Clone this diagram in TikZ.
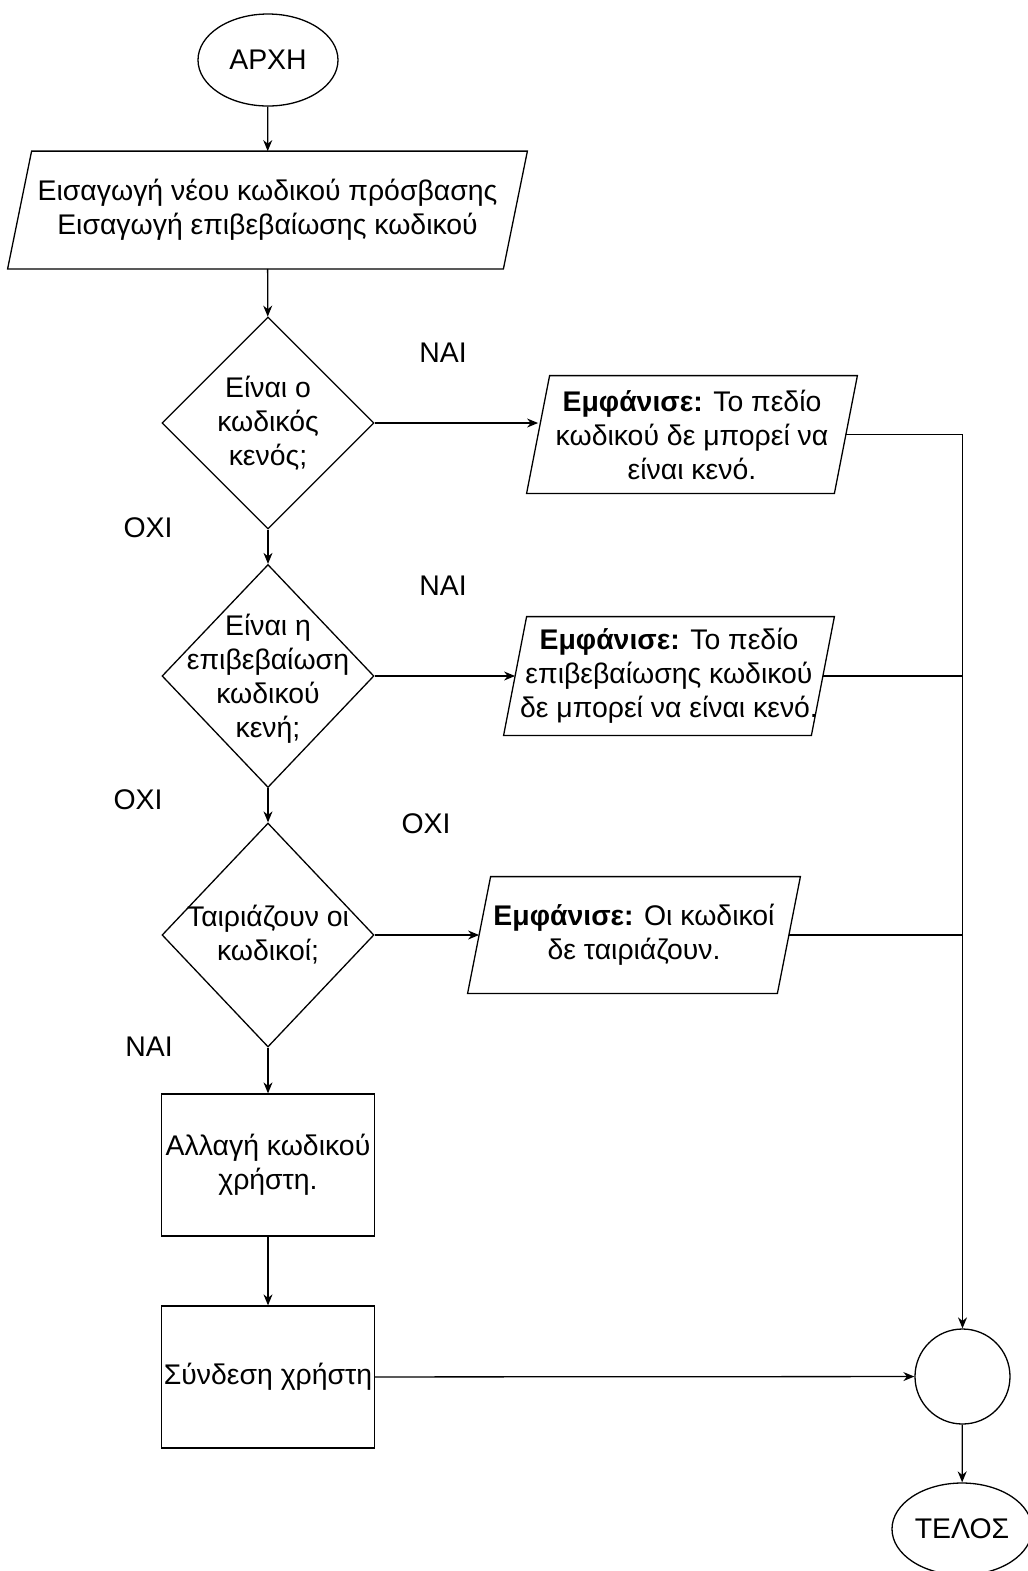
\documentclass[tikz,border=0pt]{standalone}
\usepackage{fontspec}
\setmainfont{Liberation Sans}
\usetikzlibrary{shapes.geometric,arrows.meta}

\begin{document}
\begin{tikzpicture}[x=0.5pt,y=-0.5pt,
  every node/.style={font=\fontsize{14.2}{17}\selectfont, inner sep=0pt},
  line/.style={draw=black, line width=0.65pt},
  flow/.style={line, -{Stealth[length=5.5pt,width=4.5pt]}},
  terminal/.style={ellipse, draw, line width=0.65pt, minimum width=70pt, minimum height=46pt},
  decision/.style={diamond, draw, line width=0.65pt, minimum width=106pt},
  process/.style={rectangle, draw, line width=0.65pt, minimum width=106.5pt, minimum height=71pt, align=center},
  io/.style={rectangle, minimum height=58.5pt, align=center},
  junction/.style={circle, draw, line width=0.65pt, minimum size=47.5pt},
  answer/.style={}
]
\useasboundingbox (0,0) rectangle (1028,1571);

% start and input
\node[terminal] (start) at (268,60) {ΑΡΧΗ};
\node[io, minimum width=247.5pt] (p1) at (267.5,210)
  {Εισαγωγή νέου κωδικού πρόσβασης\\Εισαγωγή επιβεβαίωσης κωδικού};

% checks
\node[decision, minimum height=106pt] (d1) at (268,423) {};
\node[align=center] (d1t) at (d1) {Είναι ο\\κωδικός\\κενός;};
\node[decision, minimum height=111.5pt] (d2) at (268,676) {};
\node[align=center] (d2t) at (268,679) {Είναι η\\επιβεβαίωση\\κωδικού\\κενή;};
\node[decision, minimum height=112pt] (d3) at (268,935) {};
\node[align=center] (d3t) at (d3) {Ταιριάζουν οι\\κωδικοί;};

% messages
\node[io, minimum width=153.5pt] (p2) at (692,434.5)
  {\textbf{Εμφάνισε:} Το πεδίο\\κωδικού δε μπορεί να\\είναι κενό.};
\node[io, minimum width=153.5pt, minimum height=59pt] (p3) at (669,676)
  {\textbf{Εμφάνισε:} Το πεδίο\\επιβεβαίωσης κωδικού\\δε μπορεί να είναι κενό.};
\node[io, minimum width=154.5pt, minimum height=58pt] (p4) at (634,935)
  {\textbf{Εμφάνισε:} Οι κωδικοί\\δε ταιριάζουν.};

% parallelogram outlines around the input/output nodes
\foreach \n/\s in {p1/6pt,p2/5.75pt,p3/5.75pt,p4/5.75pt}
  \draw[line] ([xshift=\s]\n.north west) -- ([xshift=\s]\n.north east)
    -- ([xshift=-\s]\n.south east) -- ([xshift=-\s]\n.south west) -- cycle;

% actions
\node[process] (r1) at (268,1165) {Αλλαγή κωδικού\\χρήστη.};
\node[process] (r2) at (268,1377) {Σύνδεση χρήστη};

% merge point and end
\node[junction] (m) at (962.5,1376.5) {};
\node[terminal] (end) at (962,1529) {ΤΕΛΟΣ};

% answers
\node[answer] (y1) at (443,353) {ΝΑΙ};
\node[answer] (n1) at (148,528) {ΟΧΙ};
\node[answer] (y2) at (443,586) {ΝΑΙ};
\node[answer] (n2) at (138,800) {ΟΧΙ};
\node[answer] (n3) at (426,824) {ΟΧΙ};
\node[answer] (y3) at (149,1047) {ΝΑΙ};

% main column
\draw[flow] (start) -- (p1);
\draw[flow] (p1) -- (d1);
\draw[flow] (d1) -- (d2);
\draw[flow] (d2) -- (d3);
\draw[flow] (d3) -- (r1);
\draw[flow] (r1) -- (r2);
\draw[flow] (r2) -- (m);
\draw[flow] (m) -- (end);

% branches to messages
\draw[flow] (d1.east) -- (d1.east -| p2.west);
\draw[flow] (d2.east) -- (p3.west);
\draw[flow] (d3.east) -- (p4.west);

% messages join the merge point
\draw[flow] (p2.east) -| (m.north);
\draw[line] (p3.east) -- (p3.east -| m.north);
\draw[line] (p4.east) -- (p4.east -| m.north);
\end{tikzpicture}
\end{document}
